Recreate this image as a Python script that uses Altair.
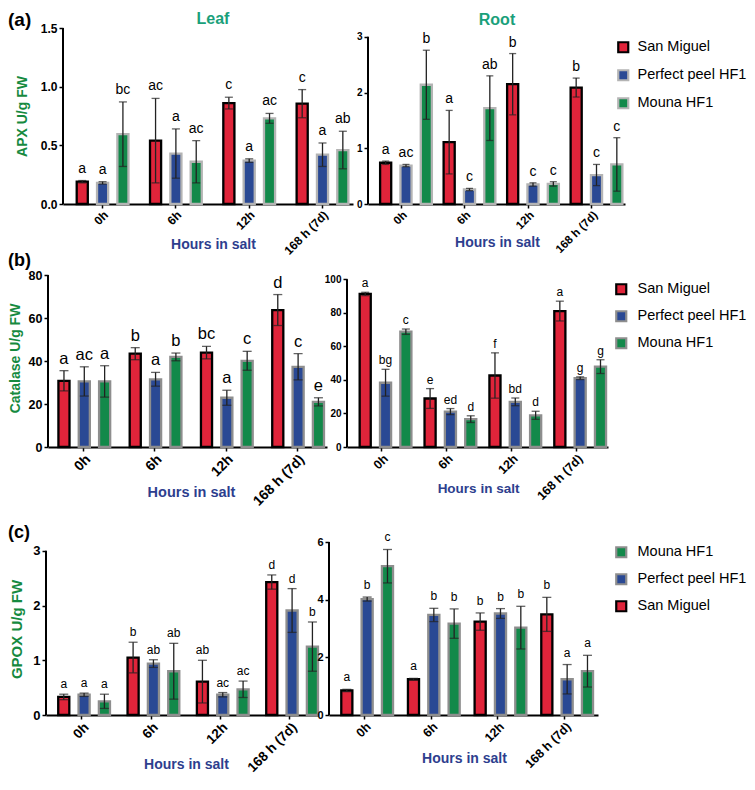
import altair as alt
import pandas as pd

FONT = "Liberation Sans, Arial, sans-serif"
TIMES = ["0h", "6h", "12h", "168 h (7d)"]
CULTIVARS = ["San Miguel", "Perfect peel HF1", "Mouna HF1"]
FILL_COLORS = ["#e0243a", "#2a4994", "#12894a"]
COLOR = dict(zip(CULTIVARS, FILL_COLORS))
YGREEN = "#168a3f"
TEAL = "#19a07a"
XBLUE = "#2d3e8e"
ERRC = "#222222"

# (a) APX  -- rows: San Miguel, Perfect peel HF1, Mouna HF1 ; cols: TIMES
APX_LEAF_MEAN = [[0.19, 0.54, 0.86, 0.855], [0.18, 0.43, 0.37, 0.42], [0.595, 0.36, 0.73, 0.46]]
APX_LEAF_ERR = [[0.01, 0.36, 0.05, 0.12], [0.01, 0.21, 0.015, 0.10], [0.275, 0.18, 0.042, 0.16]]
APX_LEAF_LET = [["a", "ac", "c", "c"], ["a", "a", "a", "a"], ["bc", "ac", "ac", "ab"]]

APX_ROOT_MEAN = [[0.74, 1.11, 2.15, 2.09], [0.69, 0.26, 0.35, 0.52], [2.14, 1.72, 0.36, 0.71]]
APX_ROOT_ERR = [[0.03, 0.57, 0.55, 0.17], [0.02, 0.02, 0.03, 0.19], [0.62, 0.58, 0.04, 0.48]]
APX_ROOT_LET = [["a", "a", "b", "b"], ["ac", "c", "c", "c"], ["b", "ab", "c", "c"]]

# (b) Catalase
CAT_LEAF_MEAN = [[30.8, 43.4, 43.9, 63.7], [30.5, 31.5, 22.9, 37.3], [30.5, 41.9, 40.1, 21.0]]
CAT_LEAF_ERR = [[4.7, 2.8, 2.9, 7.2], [6.8, 3.2, 3.5, 6.1], [7.3, 1.8, 4.4, 1.9]]
CAT_LEAF_LET = [["a", "b", "bc", "d"], ["ac", "a", "a", "c"], ["a", "b", "c", "e"]]

CAT_ROOT_MEAN = [[91.2, 28.9, 42.6, 81.0], [38.3, 21.1, 26.9, 41.0], [68.7, 16.6, 18.9, 47.9]]
CAT_ROOT_ERR = [[1.0, 5.9, 13.5, 5.9], [8.0, 1.8, 2.3, 0.8], [1.6, 2.0, 2.4, 4.1]]
CAT_ROOT_LET = [["a", "e", "f", "a"], ["bg", "ed", "bd", "g"], ["c", "d", "d", "g"]]

# (c) GPOX
GPOX_LEAF_MEAN = [[0.33, 1.05, 0.61, 2.43], [0.37, 0.94, 0.37, 1.91], [0.25, 0.80, 0.47, 1.25]]
GPOX_LEAF_ERR = [[0.05, 0.28, 0.39, 0.13], [0.03, 0.07, 0.04, 0.40], [0.13, 0.51, 0.15, 0.45]]
GPOX_LEAF_LET = [["a", "b", "ab", "d"], ["a", "ab", "ac", "d"], ["a", "ab", "ac", "b"]]

GPOX_ROOT_MEAN = [[0.85, 1.24, 3.24, 3.49], [4.02, 3.47, 3.52, 1.24], [5.16, 3.17, 3.03, 1.52]]
GPOX_ROOT_ERR = [[0.04, 0.03, 0.30, 0.59], [0.07, 0.23, 0.17, 0.51], [0.58, 0.51, 0.74, 0.55]]
GPOX_ROOT_LET = [["a", "a", "b", "b"], ["b", "b", "b", "a"], ["c", "b", "b", "a"]]

LEGEND_ORDER_C = ["Mouna HF1", "Perfect peel HF1", "San Miguel"]


def make_df(mean, err, letters):
    rows = []
    for ci, cv in enumerate(CULTIVARS):
        for ti, t in enumerate(TIMES):
            m, e = mean[ci][ti], err[ci][ti]
            rows.append({"time": t, "cultivar": cv, "mean": m, "lo": max(m - e, 0.0),
                         "hi": m + e, "letter": letters[ci][ti]})
    return pd.DataFrame(rows)


def note(text, x, y, size, color="black", weight="bold", align="left"):
    return alt.Chart(pd.DataFrame({"t": [text]})).mark_text(
        font=FONT, fontSize=size, fontWeight=weight, color=color, align=align, baseline="top"
    ).encode(x=alt.value(x), y=alt.value(y), text="t:N")


def spacer(w, h):
    return alt.Chart(pd.DataFrame({"v": [0, 1]})).mark_point(opacity=0, size=1).encode(
        x=alt.X("v:Q", axis=None), y=alt.Y("v:Q", axis=None)
    ).properties(width=w, height=h)


def panel(df, gw, x0, pw, height, ymax, yticks, yfmt, axis_top, pi, po, al, pi2, halo,
          ylab, xlab, let_size, let_dy, cap, xt_x, xt_y, xt_size=14,
          ytitle=None, yt_x=0, yt_y=0, yt_size=14, legend=None, order=CULTIVARS, notes=()):
    yscale = alt.Scale(domain=[0, ymax], nice=False, zero=True)
    ykw = dict(values=yticks, format=yfmt, domain=False, grid=False, tickSize=4, tickWidth=1.5,
               tickColor="black", labelFont=FONT, labelFontSize=ylab, labelFontWeight="bold",
               labelColor="black", labelPadding=2, offset=-x0)
    if ytitle:
        ykw.update(title=ytitle, titleFont=FONT, titleFontSize=yt_size, titleFontWeight="bold",
                   titleColor=YGREEN, titleX=yt_x - x0, titleY=yt_y, titleAngle=270,
                   titleAlign="center", titleBaseline="middle")
    else:
        ykw.update(title=None)
    yaxis = alt.Axis(**ykw)
    xaxis = alt.Axis(title="Hours in salt", labelAngle=-45, labelAlign="right", labelBaseline="top",
                     labelFont=FONT, labelFontSize=xlab, labelFontWeight="bold", labelColor="black",
                     labelPadding=1, labelOverlap=False, tickSize=4, tickWidth=1.5, tickColor="black",
                     domainColor="black", domainWidth=2, grid=False, titleFont=FONT,
                     titleFontSize=xt_size, titleFontWeight="bold", titleColor=XBLUE,
                     titleX=xt_x, titleY=xt_y, titleAlign="center", titleBaseline="top")
    x = alt.X("time:N", sort=TIMES,
              scale=alt.Scale(range=[x0, x0 + pw], paddingInner=pi, paddingOuter=po, align=al),
              axis=xaxis)
    xo = alt.XOffset("cultivar:N", sort=CULTIVARS,
                     scale=alt.Scale(paddingInner=pi2, paddingOuter=pi2 / 2))
    strokes = {CULTIVARS[0]: "black", CULTIVARS[1]: halo, CULTIVARS[2]: halo}
    fscale = alt.Scale(domain=list(order), range=[COLOR[c] for c in order])
    sscale = alt.Scale(domain=list(order), range=[strokes[c] for c in order])
    fill = alt.Fill("cultivar:N", scale=fscale, legend=legend)
    stroke = alt.Stroke("cultivar:N", scale=sscale, legend=legend)

    base = alt.Chart(df)
    bars = base.mark_bar(strokeWidth=2.3).encode(
        x=x, xOffset=xo, y=alt.Y("mean:Q", scale=yscale, axis=yaxis), fill=fill, stroke=stroke)
    rule = base.mark_rule(color=ERRC, strokeWidth=1.3).encode(
        x=x, xOffset=xo, y=alt.Y("lo:Q", scale=yscale, axis=yaxis), y2="hi:Q")
    cap_hi = base.mark_tick(color=ERRC, thickness=1.3, size=cap).encode(
        x=x, xOffset=xo, y=alt.Y("hi:Q", scale=yscale, axis=yaxis))
    cap_lo = base.mark_tick(color=ERRC, thickness=1.3, size=cap).encode(
        x=x, xOffset=xo, y=alt.Y("lo:Q", scale=yscale, axis=yaxis))
    letters = base.mark_text(font=FONT, fontSize=let_size, dy=-let_dy, baseline="alphabetic",
                             color="black").encode(
        x=x, xOffset=xo, y=alt.Y("hi:Q", scale=yscale, axis=yaxis), text="letter:N")
    axis_line = alt.Chart(pd.DataFrame({"y0": [0.0], "y1": [axis_top]})).mark_rule(
        color="black", strokeWidth=2).encode(
        x=alt.value(x0), y=alt.Y("y0:Q", scale=yscale, axis=yaxis), y2="y1:Q")
    layers = [bars, rule, cap_hi, cap_lo, letters, axis_line] + [note(**n) for n in notes]
    return alt.layer(*layers).properties(width=gw, height=height)


def legend(lx, ly, size, rowpad, offset):
    return alt.Legend(title=None, orient="none", legendX=lx, legendY=ly, symbolType="square",
                      symbolSize=100, symbolStrokeWidth=2.2, labelFont=FONT, labelFontSize=size,
                      labelColor="black", labelOffset=offset, rowPadding=rowpad, padding=0)


HALO_A = "#b4b4b4"
HALO_BC = "#8e8e8e"
LW = 283   # left column width (page x 46 -> 329)
RW = 269

HA, HB, HC = 176, 172, 173

pA1 = panel(make_df(APX_LEAF_MEAN, APX_LEAF_ERR, APX_LEAF_LET), LW, 17, 290, HA, 1.5, [0, 0.5, 1.0, 1.5], ".1f", 1.5,
            0.168, 0.062, 1.0, 0.454, HALO_A, 12, 12, 14, 8, 8, 167, 33,
            ytitle="APX U/g FW", yt_x=-24, yt_y=88, yt_size=14,
            notes=[dict(text="(a)", x=-38, y=-17, size=19),
                   dict(text="Leaf", x=167, y=-17, size=16, color=TEAL, align="center")])
pA2 = panel(make_df(APX_ROOT_MEAN, APX_ROOT_ERR, APX_ROOT_LET), RW, 39, 257, HA, 3.159, [0, 1, 2, 3], "d", 3,
            0.189, 0.118, 0.5, 0.41, HALO_A, 10, 11.5, 14, 7, 7, 168, 31,
            legend=legend(287, 12, 14.5, 8, 7),
            notes=[dict(text="Root", x=168, y=-16, size=16, color=TEAL, align="center")])

pB1 = panel(make_df(CAT_LEAF_MEAN, CAT_LEAF_ERR, CAT_LEAF_LET), LW, 2, 279, HB, 80, [0, 20, 40, 60, 80], "d", 80,
            0.1667, 0.0407, 1.0, 0.354, HALO_BC, 12.5, 14, 16.5, 7, 9, 145, 38, xt_size=14.5,
            ytitle="Catalase U/g FW", yt_x=-31, yt_y=83, yt_size=14,
            notes=[dict(text="(b)", x=-38, y=-23, size=18)])
pB2 = panel(make_df(CAT_ROOT_MEAN, CAT_ROOT_ERR, CAT_ROOT_LET), RW, 18, 261, HB, 102.5, [0, 20, 40, 60, 80, 100], "d", 100,
            0.177, 0.1, 0.62, 0.376, HALO_BC, 10, 12.5, 12, 5, 8, 149, 34, xt_size=13.5,
            legend=legend(285, 7, 14.5, 7, 9))

pC1 = panel(make_df(GPOX_LEAF_MEAN, GPOX_LEAF_ERR, GPOX_LEAF_LET), LW, 0, 272, HC, 3.162, [0, 1, 2, 3], "d", 3,
            0.1865, 0.0548, 1.0, 0.356, HALO_BC, 13, 13.5, 12, 6, 9, 140, 42,
            ytitle="GPOX U/g FW", yt_x=-30, yt_y=87, yt_size=15,
            notes=[dict(text="(c)", x=-38, y=-18, size=18)])
pC2 = panel(make_df(GPOX_ROOT_MEAN, GPOX_ROOT_ERR, GPOX_ROOT_LET), RW, 0, 269, HC, 6, [0, 2, 4, 6], "d", 6,
            0.163, 0.099, 0.58, 0.366, HALO_BC, 11, 12.5, 12, 8, 9, 135, 36,
            legend=legend(285, 3, 14.5, 7, 9), order=LEGEND_ORDER_C)

cells = [
    pA1, pA2,
    spacer(1, 71), spacer(1, 71),
    pB1, pB2,
    spacer(1, 95), spacer(1, 95),
    pC1, pC2,
]

chart = alt.concat(*cells, columns=2, spacing=0, bounds="flush", align="none").resolve_scale(
    fill="independent", stroke="independent"
).properties(padding={"top": 3, "left": 0, "right": 0, "bottom": 0}).configure_view(stroke=None)

chart.save("out.html", embed_options={"renderer": "svg", "actions": False})
